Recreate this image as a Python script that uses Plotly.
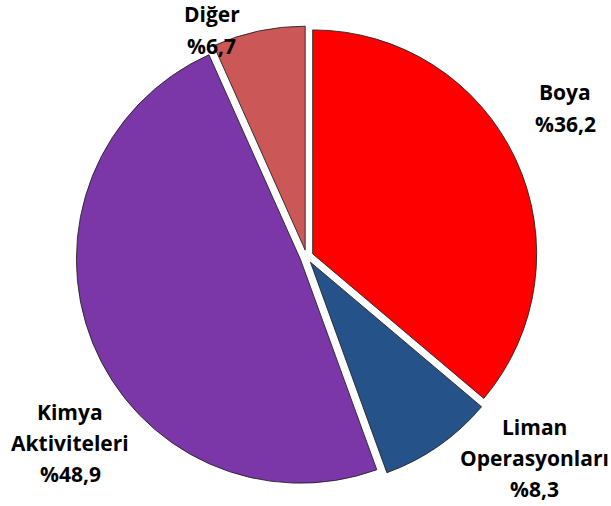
import plotly.graph_objects as go

# Sector shares (%)
sectors = ["Boya", "Liman<br>Operasyonları", "Kimya<br>Aktiviteleri", "Diğer"]
shares = [36.2, 8.3, 48.9, 6.7]
colors = ["#FF0000", "#26528A", "#7B37A7", "#CB5757"]

# Label block centres in pixels (x, y from top) for a 611x506 canvas
label_pos = [(565, 108), (534, 458), (70, 443), (212, 30)]
W, H = 611, 506
LINE_GAP = 31


def pct(v):
    return "%" + f"{v:.1f}".replace(".", ",")


fig = go.Figure(
    go.Pie(
        labels=[s.replace("<br>", " ") for s in sectors],
        values=shares,
        sort=False,
        direction="clockwise",
        rotation=0,
        pull=[0.03] * len(shares),
        marker=dict(colors=colors, line=dict(color="rgba(30,30,30,0.85)", width=1)),
        textinfo="none",
        hoverinfo="label+percent",
        showlegend=False,
        domain=dict(x=[0.1242, 0.8794], y=[0.0368, 0.9486]),
    )
)

annotations = []
for name, v, (px, py) in zip(sectors, shares, label_pos):
    lines = name.split("<br>") + [pct(v)]
    n = len(lines)
    for i, line in enumerate(lines):
        ly = py + (i - (n - 1) / 2) * LINE_GAP
        annotations.append(
            dict(
                x=px / W,
                y=1 - ly / H,
                xref="paper",
                yref="paper",
                text=f"<b>{line}</b>",
                showarrow=False,
                xanchor="center",
                yanchor="middle",
                font=dict(family="Open Sans", size=21, color="#000000"),
            )
        )

fig.update_layout(
    width=W,
    height=H,
    margin=dict(l=0, r=0, t=0, b=0),
    paper_bgcolor="white",
    plot_bgcolor="white",
    annotations=annotations,
)

fig.write_html("out.html")
